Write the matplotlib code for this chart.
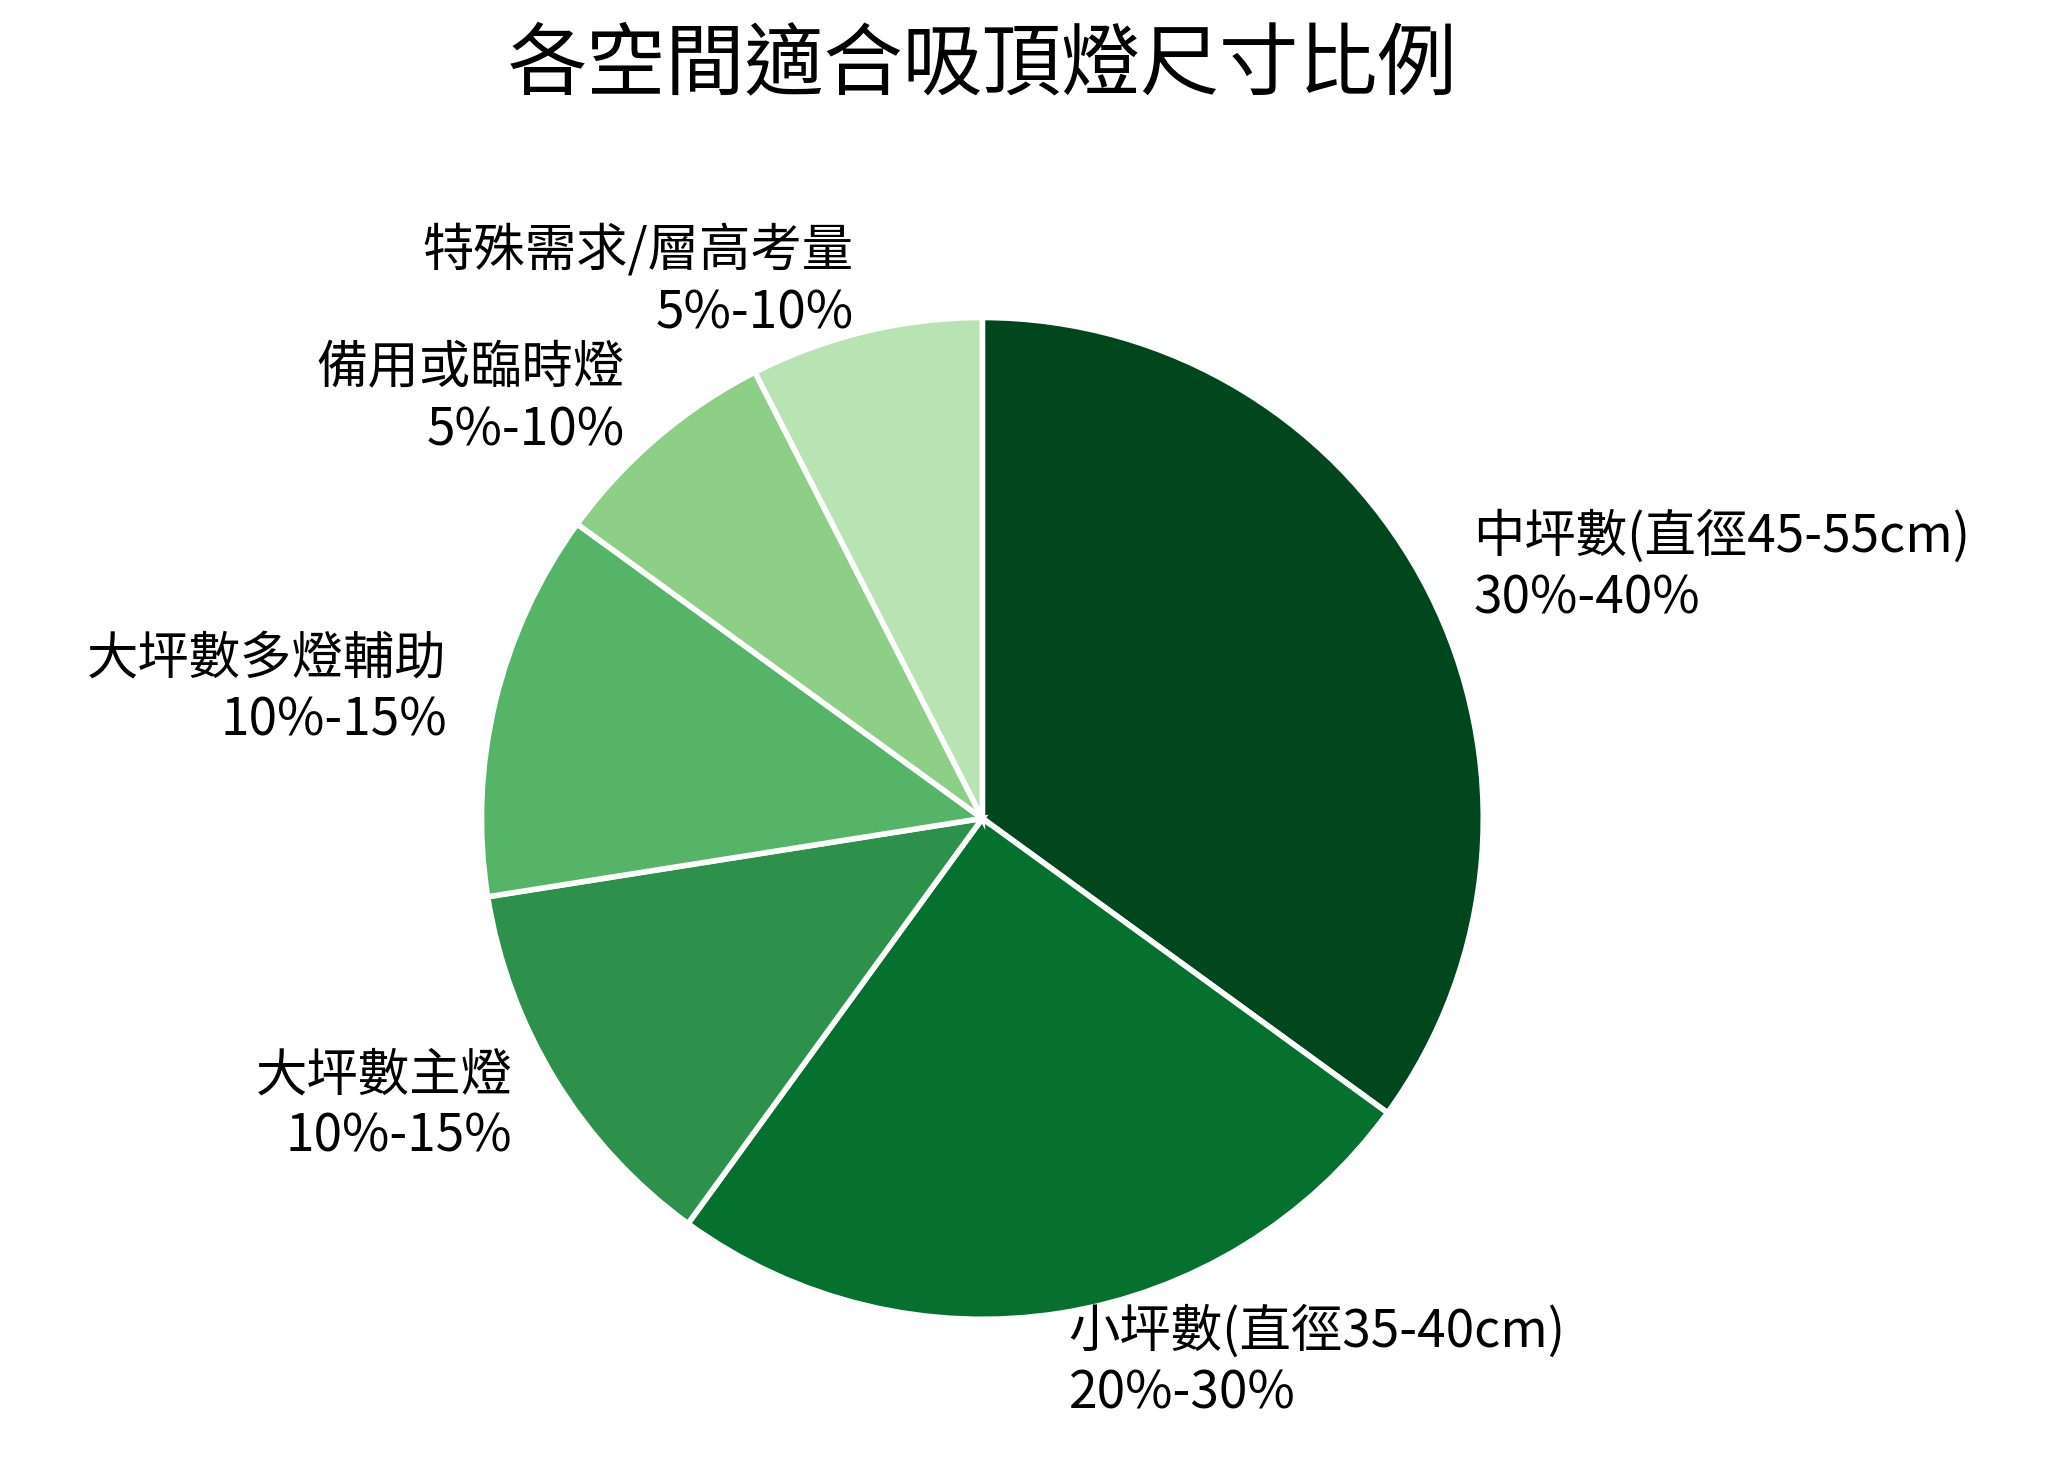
import matplotlib
matplotlib.use("Agg")
import matplotlib.pyplot as plt

plt.rcParams['font.family'] = ['Noto Sans CJK TC', 'DejaVu Sans']

categories = ["中坪數(直徑45-55cm)", "小坪數(直徑35-40cm)", "大坪數主燈", "大坪數多燈輔助", "備用或臨時燈", "特殊需求/層高考量"]
ranges = ["30%-40%", "20%-30%", "10%-15%", "10%-15%", "5%-10%", "5%-10%"]
values = [35, 25, 12.5, 12.5, 7.5, 7.5]
colors = ["#00471e", "#06702f", "#2d914b", "#56b468", "#8ecf88", "#b8e3b2"]

fig = plt.figure(figsize=(20.66, 14.68), dpi=100)
ax = fig.add_axes([0.172, 0.016, 0.607, 0.853])
labels = [f"{c}\n{r}" for c, r in zip(categories, ranges)]
ax.pie(values, labels=labels, colors=colors, startangle=90, counterclock=False,
       labeldistance=1.1, wedgeprops=dict(edgecolor="white", linewidth=4),
       textprops=dict(fontsize=37))
ax.set_aspect('equal')
fig.text(0.4756, 0.955, "各空間適合吸頂燈尺寸比例", fontsize=57, ha="center", va="center")
fig.savefig("out.png", dpi=100, facecolor="white")
